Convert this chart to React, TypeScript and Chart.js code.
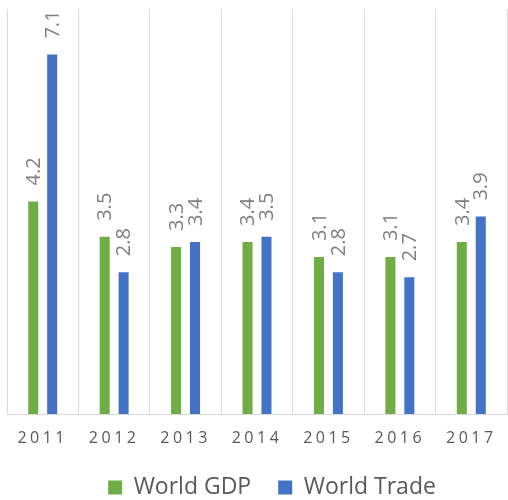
import React, { useEffect, useRef } from "react";
import { Chart, registerables } from "chart.js";

Chart.register(...registerables);

const years = ["2011", "2012", "2013", "2014", "2015", "2016", "2017"];
const worldGDP = [4.2, 3.5, 3.3, 3.4, 3.1, 3.1, 3.4];
const worldTrade = [7.1, 2.8, 3.4, 3.5, 2.8, 2.7, 3.9];
const seriesNames = ["World GDP", "World Trade"];
const seriesColors = ["#70AD47", "#4472C4"];

const FONT = "'Open Sans', sans-serif";

const letterSpacingPlugin = {
  id: "xLetterSpacing",
  beforeDraw(chart: any) {
    const x = chart.scales.x;
    if (x && !x.__lsPatched) {
      const orig = x.drawLabels.bind(x);
      x.drawLabels = (area: any) => {
        const c = chart.ctx;
        c.save();
        (c as any).letterSpacing = "3.5px";
        orig(area);
        c.restore();
      };
      x.__lsPatched = true;
    }
  },
};

const legendShiftPlugin = {
  id: "legendShift",
  afterLayout(chart: any) {
    if (chart.legend) chart.legend.left += 30;
  },
};

const valueLabelPlugin = {
  id: "valueLabels",
  afterDatasetsDraw(chart: any) {
    const ctx = chart.ctx;
    chart.data.datasets.forEach((ds: any, i: number) => {
      const meta = chart.getDatasetMeta(i);
      meta.data.forEach((el: any, j: number) => {
        const v = ds.data[j];
        ctx.save();
        ctx.translate(el.x + 1, el.y - 16);
        ctx.rotate(-Math.PI / 2);
        ctx.font = `20px ${FONT}`;
        ctx.fillStyle = "#7F7F7F";
        ctx.textAlign = "left";
        ctx.textBaseline = "middle";
        ctx.fillText(v.toFixed(1), 0, 0);
        ctx.restore();
      });
    });
  },
};

export default function App() {
  const ref = useRef<HTMLCanvasElement | null>(null);
  useEffect(() => {
    if (!ref.current) return;
    const chart = new Chart(ref.current, {
      type: "bar",
      data: {
        labels: years,
        datasets: [
          {
            label: seriesNames[0],
            data: worldGDP,
            backgroundColor: seriesColors[0],
            categoryPercentage: 0.53,
            barPercentage: 0.53,
          },
          {
            label: seriesNames[1],
            data: worldTrade,
            backgroundColor: seriesColors[1],
            categoryPercentage: 0.53,
            barPercentage: 0.53,
          },
        ],
      },
      options: {
        responsive: false,
        animation: false,
        layout: { padding: { left: 7, right: 1, top: 9, bottom: 0 } },
        scales: {
          x: {
            grid: { color: "#D9D9D9", lineWidth: 1, drawTicks: false, offset: true },
            border: { color: "#D9D9D9" },
            ticks: { color: "#595959", font: { family: FONT, size: 16 }, padding: 15 },
            afterFit: (scale: any) => {
              scale.height = 35;
            },
          },
          y: { display: false, min: 0, max: 8 },
        },
        plugins: {
          legend: {
            position: "bottom",
            labels: {
              color: "#595959",
              font: { family: FONT, size: 23 },
              boxWidth: 14,
              boxHeight: 14,
              padding: 27,
            },
          },
          tooltip: { enabled: false },
        },
      },
      plugins: [letterSpacingPlugin, legendShiftPlugin, valueLabelPlugin],
    });
    return () => chart.destroy();
  }, []);
  return (
    <div style={{ position: "fixed", left: 0, top: 0, width: 508, height: 500, overflow: "hidden", background: "#fff" }}>
      <canvas ref={ref} width={508} height={509} style={{ width: 508, height: 509, display: "block" }} />
    </div>
  );
}
